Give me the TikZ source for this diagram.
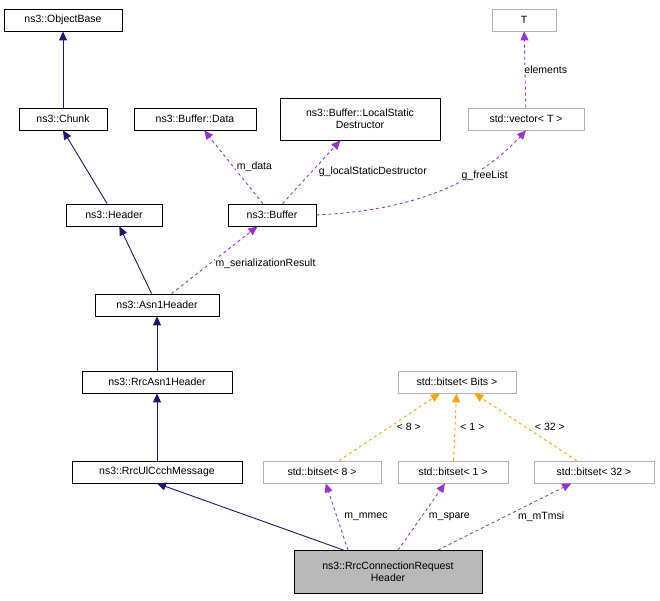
\documentclass[tikz,border=0pt]{standalone}
\usepackage{fontspec}
\setmainfont{Liberation Sans}
\usetikzlibrary{arrows.meta}
\definecolor{navy}{HTML}{191970}
\definecolor{purp}{HTML}{9A32CD}
\definecolor{orng}{HTML}{FFA500}
\begin{document}
\begin{tikzpicture}[x=1pt,y=-1pt,
 box/.style={draw=black,fill=white,inner sep=0pt,minimum height=22pt,font=\fontsize{10.5}{12}\selectfont,align=center,line width=0.8pt},
 gbox/.style={box,draw=gray!60},
 inh/.style={navy,line width=0.9pt,-{Triangle[length=9pt,width=8pt]}},
 use/.style={purp,dashed,line width=0.9pt,-{Triangle[length=9pt,width=8pt]}},
 tpl/.style={orng,dashed,line width=0.9pt,-{Triangle[length=9pt,width=8pt]}},
 lab/.style={font=\fontsize{10.5}{12}\selectfont,text=black,fill=white,inner sep=1pt}]
\useasboundingbox (0,0) rectangle (660,600);
\node[box,minimum width=118pt] (ob) at (63,20) {ns3::ObjectBase};
\node[box,minimum width=88pt] (ch) at (63,119) {ns3::Chunk};
\node[box,minimum width=96pt] (hd) at (114,215) {ns3::Header};
\node[box,minimum width=124pt] (asn) at (157,305) {ns3::Asn1Header};
\node[box,minimum width=150pt] (rrc) at (157,382) {ns3::RrcAsn1Header};
\node[box,minimum width=170pt] (ul) at (157,472) {ns3::RrcUlCcchMessage};
\node[box,fill=gray!55,minimum width=188pt,minimum height=43pt] (req) at (388,572) {ns3::RrcConnectionRequest\\Header};
\node[box,minimum width=122pt] (bd) at (195,119) {ns3::Buffer::Data};
\node[box,minimum width=160pt,minimum height=42pt] (ls) at (360,119) {ns3::Buffer::LocalStatic\\Destructor};
\node[box,minimum width=88pt] (buf) at (272,215) {ns3::Buffer};
\node[gbox,minimum width=64pt] (T) at (524,20) {T};
\node[gbox,minimum width=116pt] (vec) at (526,119) {std::vector< T >};
\node[gbox,minimum width=118pt] (bb) at (457,382) {std::bitset< Bits >};
\node[gbox,minimum width=118pt] (b8) at (322,472) {std::bitset< 8 >};
\node[gbox,minimum width=110pt] (b1) at (453,472) {std::bitset< 1 >};
\node[gbox,minimum width=120pt] (b32) at (594,472) {std::bitset< 32 >};
\draw[inh] (ch) -- (ob);
\draw[inh] (hd) -- (ch.south);
\draw[inh] (asn) -- (hd);
\draw[inh] (rrc) -- (asn);
\draw[inh] (ul) -- (rrc);
\draw[inh] (req.north west) ++(50,0) coordinate (r1) (r1) -- (ul.south);
\draw[use] (vec) -- (T) node[lab,pos=0.5,right=-2pt] {elements};
\draw[use] (buf) -- (bd) node[lab,pos=0.5,right=2pt] {m\_data};
\draw[use] (buf) -- (ls) node[lab,pos=0.5,right=6pt] {g\_localStaticDestructor};
\draw[use] (buf.east) .. controls (420,210) and (480,180) .. (vec.south) node[lab,pos=0.6,above right=-2pt] {g\_freeList};
\draw[use] (asn) -- (buf) node[lab,pos=0.45,right=4pt] {m\_serializationResult};
\draw[tpl] (b8) -- (bb) node[lab,pos=0.5,right=6pt] {< 8 >};
\draw[tpl] (b1) -- (bb) node[lab,pos=0.5,right=4pt] {< 1 >};
\draw[tpl] (b32) -- (bb) node[lab,pos=0.5,right=8pt] {< 32 >};
\draw[use] (req.north) ++(-40,0) coordinate (r2) (r2) -- (b8) node[lab,pos=0.5,right=6pt] {m\_mmec};
\draw[use] (req.north) ++(10,0) coordinate (r3) (r3) -- (b1) node[lab,pos=0.5,right=6pt] {m\_spare};
\draw[use] (req.north) ++(50,0) coordinate (r4) (r4) -- (b32) node[lab,pos=0.5,right=12pt] {m\_mTmsi};
\end{tikzpicture}
\end{document}
